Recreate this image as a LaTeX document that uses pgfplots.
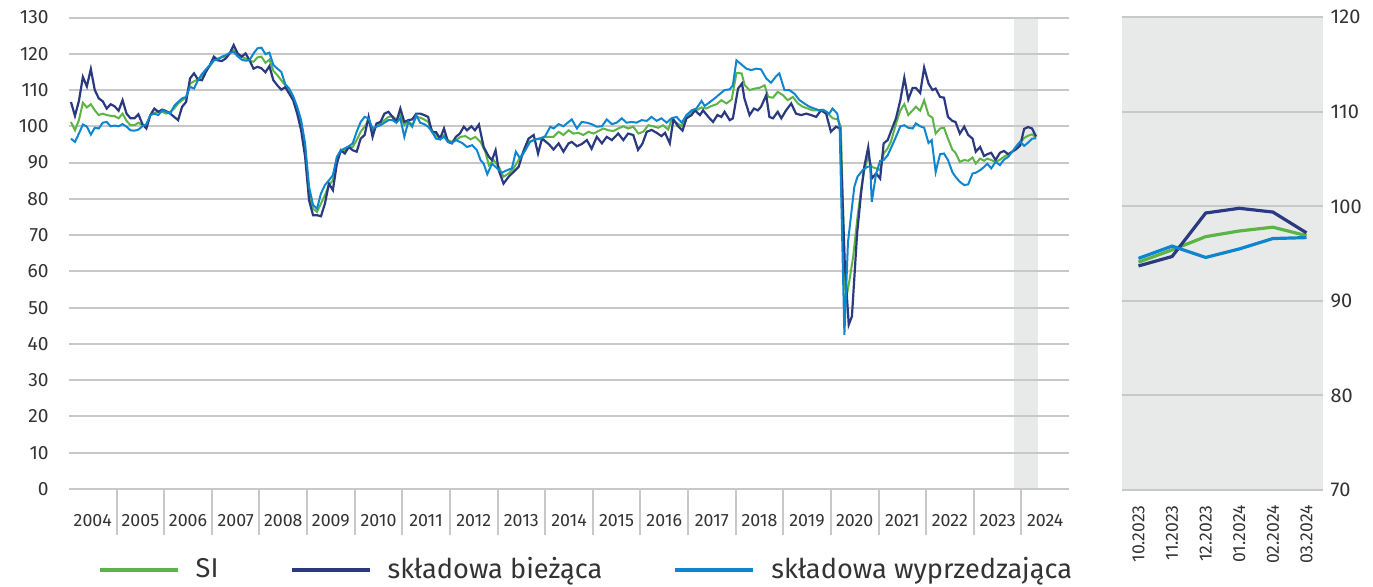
\documentclass[border=0pt]{standalone}
\usepackage{pgfplots}
\usepackage{pgfplotstable}
\pgfplotsset{compat=1.18}
\usepackage{fontspec}
\setmainfont{Fira Sans}
\definecolor{cSI}{HTML}{5DB446}
\definecolor{cCur}{HTML}{2B3A80}
\definecolor{cLead}{HTML}{0E86CF}
\definecolor{gridgray}{HTML}{C8C8C8}
\definecolor{bandgray}{HTML}{E8EAEA}
\definecolor{txt}{HTML}{333333}

% x = months since Jan 2004 (position on the time axis)
\pgfplotstableread{
x y
0.5 101.2
1.5 98.9
2.5 101.7
3.5 106.5
4.5 105.2
5.5 106.1
6.5 104.4
7.5 103.1
8.5 103.5
9.5 103.1
10.5 102.9
11.5 102.8
12.5 102.2
13.5 103.5
14.5 101.5
15.5 100.3
16.5 100.3
17.5 101.0
18.5 100.3
19.5 100.0
20.5 103.1
21.5 103.7
22.5 104.0
23.5 104.0
24.5 103.5
25.5 104.0
26.5 104.9
27.5 106.3
28.5 107.2
29.5 107.9
30.5 111.8
31.5 112.4
32.5 112.9
33.5 113.8
34.5 115.3
35.5 116.6
36.5 118.1
37.5 118.7
38.5 119.0
39.5 119.3
40.5 120.1
41.5 121.0
42.5 119.8
43.5 119.2
44.5 118.7
45.5 118.1
46.5 117.8
47.5 119.0
48.5 119.2
49.5 117.5
50.5 118.4
51.5 115.3
52.5 114.1
53.5 112.7
54.5 111.3
55.5 109.5
56.5 107.2
57.5 104.0
58.5 99.9
59.5 93.4
60.5 81.5
61.5 77.3
62.5 76.4
63.5 78.7
64.5 81.0
65.5 83.8
66.5 85.1
67.5 90.7
68.5 93.0
69.5 93.4
70.5 94.3
71.5 94.3
72.5 96.2
73.5 98.5
74.5 99.9
75.5 101.7
76.5 98.9
77.5 100.0
78.5 100.8
79.5 101.7
80.5 102.6
81.5 102.8
82.5 101.9
83.5 103.1
84.5 100.3
85.5 101.5
86.5 100.3
87.5 102.6
88.5 102.4
89.5 101.9
90.5 101.2
91.5 98.9
92.5 97.6
93.5 96.6
94.5 97.6
95.5 96.2
96.5 95.7
97.5 96.2
98.7 97.1
99.9 97.3
101.2 96.4
102.4 97.1
103.7 95.7
104.9 93.0
105.8 89.3
107.0 90.7
108.3 88.8
109.5 86.1
110.8 87.0
112.0 88.4
113.3 90.7
114.6 93.0
115.8 95.7
117.1 96.2
118.3 96.6
119.6 96.9
120.9 97.1
122.1 97.1
123.4 98.5
124.6 97.6
125.9 98.9
127.1 98.0
128.4 98.2
129.6 97.6
130.9 98.5
132.2 98.0
133.4 98.7
134.7 99.4
135.9 98.9
137.2 98.7
138.4 99.4
139.7 100.0
140.9 99.4
142.2 99.9
143.5 98.0
144.7 98.5
146.0 100.3
147.2 100.0
148.5 99.6
149.7 100.3
151.0 99.1
151.8 101.7
153.1 101.0
154.4 100.0
155.6 102.6
156.9 104.0
158.1 104.4
159.4 105.2
160.6 104.9
161.9 105.6
163.2 106.1
164.4 107.2
165.7 106.3
167.0 107.4
168.2 114.7
169.5 114.6
170.3 111.3
171.5 110.0
172.8 110.4
174.0 110.6
175.3 111.3
176.2 108.1
177.4 107.9
178.6 109.5
179.9 108.6
181.1 107.2
182.4 108.1
183.7 106.3
184.9 105.4
186.2 104.9
187.4 104.4
188.7 104.4
190.0 104.6
191.2 103.5
192.5 102.2
193.7 101.9
194.5 99.9
195.7 51.5
196.6 57.0
197.6 64.0
198.7 75.0
199.7 83.3
200.5 88.4
201.4 91.6
202.3 88.8
203.4 88.4
204.4 87.9
205.3 92.5
206.3 93.9
207.1 95.7
208.4 100.7
209.5 104.4
210.5 106.1
211.5 103.1
212.6 104.4
213.4 105.4
214.5 104.3
215.5 107.2
216.6 103.1
217.6 102.4
218.4 98.0
219.5 99.4
220.5 99.6
221.5 96.6
222.6 93.6
223.4 92.7
224.5 90.2
225.6 90.7
226.6 90.5
227.7 91.4
228.5 89.7
229.6 91.1
230.6 90.5
231.4 91.1
232.4 90.7
233.5 90.2
234.6 90.8
235.6 91.6
236.7 92.3
237.7 93.0
238.7 94.1
239.7 95.4
240.7 96.8
241.7 97.4
242.7 97.8
243.7 96.9
}\tabSI

\pgfplotstableread{
x y
0.5 106.7
1.5 102.9
2.5 107.0
3.5 113.6
4.5 111.0
5.5 115.8
6.5 110.0
7.5 107.7
8.5 106.9
9.5 104.9
10.5 106.1
11.5 105.5
12.5 104.3
13.5 107.2
14.5 103.5
15.5 102.2
16.5 102.2
17.5 103.3
18.5 100.6
19.5 99.4
20.5 103.1
21.5 104.9
22.5 104.0
23.5 104.6
24.5 104.2
25.5 103.5
26.5 102.6
27.5 101.7
28.5 105.4
29.5 106.7
30.5 113.2
31.5 114.6
32.5 112.9
33.5 112.7
34.5 115.0
35.5 116.9
36.5 119.2
37.5 118.2
38.5 118.0
39.5 118.7
40.5 120.1
41.5 122.4
42.5 120.1
43.5 119.2
44.5 120.1
45.5 118.2
46.5 115.9
47.5 116.4
48.5 116.0
49.5 114.9
50.5 116.6
51.5 112.7
52.5 111.3
53.5 110.1
54.5 110.8
55.5 109.0
56.5 107.2
57.5 103.5
58.5 98.9
59.5 91.6
60.5 79.6
61.5 75.5
62.5 75.5
63.5 75.2
64.5 78.7
65.5 84.2
66.5 82.4
67.5 89.7
68.5 93.4
69.5 92.5
70.5 94.3
71.5 93.4
72.5 93.0
73.5 96.6
74.5 97.6
75.5 102.6
76.5 97.1
77.5 100.8
78.5 101.2
79.5 103.5
80.5 104.0
81.5 102.6
82.5 101.2
83.5 104.9
84.5 101.2
85.5 101.7
86.5 101.9
87.5 103.5
88.5 103.5
89.5 103.1
90.5 102.6
91.5 98.4
92.5 98.4
93.5 96.6
94.5 99.4
95.5 95.7
96.5 95.3
97.5 97.1
98.5 98.0
99.5 99.9
100.3 98.9
101.4 100.0
102.3 98.9
103.3 100.5
104.5 94.3
105.8 91.6
106.6 90.7
107.5 93.4
108.3 87.9
109.5 84.2
110.8 86.1
112.0 87.4
113.3 88.8
114.6 93.4
115.8 96.6
117.1 97.6
118.2 92.5
119.2 96.6
120.9 95.1
122.1 93.6
123.4 95.3
124.6 93.0
125.9 95.3
126.7 95.7
128.0 94.5
129.2 95.1
130.5 96.2
131.7 93.8
133.0 97.1
134.3 95.3
135.5 97.1
136.8 96.2
138.4 98.0
139.7 96.2
140.9 98.0
142.2 97.6
143.4 93.5
144.5 95.2
145.6 98.5
146.8 99.0
148.1 98.2
149.3 97.3
150.2 98.2
151.4 95.3
152.3 101.9
153.5 100.0
154.6 98.8
155.6 102.2
156.9 103.1
157.7 104.4
159.0 103.1
159.8 104.4
161.1 102.6
162.3 101.2
163.4 103.1
164.4 102.6
165.2 104.0
166.5 101.7
167.3 102.2
168.6 110.4
169.6 111.8
170.2 107.7
171.5 103.1
172.6 104.9
173.6 104.4
174.4 105.4
175.7 108.6
176.5 102.6
177.4 102.2
178.6 104.0
179.5 102.2
180.7 104.4
182.0 106.3
183.2 103.5
184.5 103.1
185.8 103.5
187.0 103.1
188.3 102.6
189.5 104.4
190.8 103.5
192.0 98.5
193.3 99.9
194.3 99.4
195.5 62.0
196.5 45.3
197.3 47.6
198.6 70.4
199.6 81.5
200.4 88.8
201.4 94.2
202.3 85.6
203.4 87.0
204.4 85.6
205.3 95.3
206.3 96.2
207.1 98.5
208.4 102.2
209.5 107.2
210.5 113.4
211.5 107.4
212.6 110.6
213.4 110.6
214.5 109.2
215.5 116.2
216.6 111.8
217.6 110.0
218.4 110.4
219.5 108.1
220.5 107.9
221.5 102.6
222.6 101.5
223.4 101.2
224.5 98.0
225.6 99.9
226.6 97.6
227.7 96.6
228.5 93.0
229.6 94.3
230.6 91.8
231.4 92.3
232.4 92.7
233.5 90.7
234.6 92.7
235.6 93.2
236.7 92.3
237.7 93.0
238.7 93.7
239.7 94.7
240.7 99.3
241.7 99.8
242.7 99.4
243.7 97.2
}\tabCur

\pgfplotstableread{
x y
0.5 96.6
1.5 95.7
2.5 98.0
3.5 100.5
4.5 99.9
5.5 97.7
6.5 99.6
7.5 99.4
8.5 101.0
9.5 101.2
10.5 100.0
11.5 100.2
12.5 100.0
13.5 100.6
14.5 99.9
15.5 98.9
16.5 98.8
17.5 99.1
18.5 100.0
19.5 100.6
20.5 103.1
21.5 103.5
22.5 103.1
23.5 104.4
24.5 104.0
25.5 103.5
26.5 105.6
27.5 106.7
28.5 107.7
29.5 108.1
30.5 110.9
31.5 110.4
32.5 112.7
33.5 114.4
34.5 115.7
35.5 116.9
36.5 118.2
37.5 118.4
38.5 119.2
39.5 119.6
40.5 120.3
41.5 120.5
42.5 119.3
43.5 118.4
44.5 118.1
45.5 118.2
46.5 120.1
47.5 121.5
48.5 121.7
49.5 119.9
50.5 120.3
51.5 116.9
52.5 115.9
53.5 115.0
54.5 111.6
55.5 110.4
56.5 108.3
57.5 105.4
58.5 101.7
59.5 95.3
60.5 83.3
61.5 78.3
62.5 77.3
63.5 81.5
64.5 83.8
65.5 85.1
66.5 86.5
67.5 91.6
68.5 93.4
69.5 93.9
70.5 94.5
71.5 95.3
72.5 98.5
73.5 101.2
74.5 102.6
75.5 102.2
76.5 99.4
77.5 99.9
78.5 100.3
79.5 101.0
80.5 101.7
81.5 101.7
82.5 101.0
83.5 102.2
84.5 97.1
85.5 101.2
86.5 99.9
87.5 103.1
88.5 101.0
89.5 100.6
90.5 99.9
91.5 98.5
92.5 96.6
93.5 96.4
94.5 97.1
95.5 95.7
96.5 95.4
97.5 96.2
99.1 95.4
100.3 94.3
101.6 94.8
102.8 93.4
103.7 90.7
104.5 89.7
105.4 86.8
106.6 89.7
107.9 88.4
109.1 87.2
110.4 87.9
111.6 88.4
112.6 93.0
113.7 91.1
115.0 93.4
116.2 95.7
117.5 96.4
118.8 96.6
120.0 97.3
121.3 99.9
122.1 99.4
123.4 100.6
124.6 100.0
125.9 101.2
126.7 101.9
128.0 99.4
129.2 101.2
130.5 101.0
131.7 100.6
133.0 99.9
134.3 100.0
135.5 101.9
136.8 100.6
138.0 101.0
139.3 102.2
140.5 101.0
141.8 101.2
143.0 101.0
144.3 101.7
145.6 101.5
146.8 102.6
148.1 101.5
149.3 102.2
150.6 101.0
151.8 102.2
153.1 102.6
154.4 101.0
155.6 103.1
156.9 104.4
158.1 104.9
159.4 107.0
160.2 105.6
161.5 106.7
162.7 107.7
164.0 108.9
165.2 110.0
166.5 110.2
167.3 111.3
168.2 118.2
169.4 117.1
170.7 115.9
171.9 115.5
173.2 115.9
174.4 115.7
175.7 113.2
176.9 112.0
178.2 113.8
179.0 114.6
180.3 110.0
181.5 110.0
182.8 109.0
184.1 107.2
185.3 106.3
186.6 105.4
187.8 104.9
189.1 104.4
190.3 104.4
191.6 103.5
192.4 104.9
193.6 103.5
194.2 99.9
195.4 42.5
196.3 68.0
197.9 83.3
198.7 86.1
200.0 87.9
201.1 88.8
201.9 89.0
202.3 79.2
203.4 87.0
204.4 90.5
205.3 90.7
206.3 92.0
207.1 93.9
208.4 97.1
209.5 100.0
210.5 100.3
211.5 99.6
212.6 99.4
213.4 100.8
214.5 100.0
215.5 99.6
216.6 95.4
217.4 96.2
218.4 87.4
219.5 92.3
220.5 92.5
221.5 90.7
222.6 87.4
223.4 86.1
224.5 84.7
225.6 83.8
226.6 84.0
227.7 87.0
228.5 87.2
229.6 87.9
230.6 88.8
231.4 89.7
232.4 88.4
233.5 90.2
234.6 89.3
235.6 90.8
236.7 91.6
237.7 93.0
238.7 94.5
239.7 95.8
240.7 94.6
241.7 95.5
242.7 96.6
243.7 96.7
}\tabLead

\begin{document}
\begin{tikzpicture}
\begin{axis}[
  set layers,
  at={(0pt,0pt)}, anchor=south west,
  scale only axis, width=500pt, height=235.75pt,
  xmin=0, xmax=252, ymin=0, ymax=130,
  axis line style={draw=none},
  ytick={0,10,...,130},
  ymajorgrids, grid style={gridgray, line width=1pt},
  major tick length=0pt,
  tick style={gridgray, line width=1pt},
  xtick pos=bottom, ytick pos=left,
  xtick={6,18,...,246},
  xticklabels={2004,2005,2006,2007,2008,2009,2010,2011,2012,2013,2014,2015,2016,2017,2018,2019,2020,2021,2022,2023,2024},
  extra x ticks={12,24,...,240},
  extra x tick labels={},
  extra x tick style={major tick length=23pt, tick align=outside, xmajorgrids=false},
  xticklabel style={font=\fontsize{8.9}{10}\selectfont, text=txt, anchor=base, yshift=-18.5pt},
  yticklabel style={font=\fontsize{9.6}{10}\selectfont, text=txt, anchor=east, inner sep=0pt, xshift=-10pt},
  /pgf/number format/assume math mode=true,
  legend columns=3,
  legend style={draw=none, fill=none, inner sep=0pt,
    at={(axis description cs:0.0283,-0.171)}, anchor=west,
    font=\fontsize{13.6}{15}\selectfont, text=txt,
    nodes={inner sep=0pt},
    /tikz/every odd column/.append style={column sep=8pt},
    /tikz/every even column/.append style={column sep=35.5pt}},
  legend image code/.code={\draw[#1, line width=2pt] (0pt,0pt) -- (39pt,0pt);},
]
\addplot[fill=bandgray, draw=none, on layer=axis background, forget plot] coordinates {(238.2,0) (244.3,0) (244.3,130) (238.2,130)};
\addplot[cSI, line width=1pt] table[x=x,y=y] {\tabSI};
\addlegendentry{SI}
\addplot[cCur, line width=1.1pt] table[x=x,y=y] {\tabCur};
\addlegendentry{składowa bieżąca}
\addplot[cLead, line width=1pt] table[x=x,y=y] {\tabLead};
\addlegendentry{składowa wyprzedzająca}
\end{axis}

\begin{axis}[
  at={(526.35pt,-0.5pt)}, anchor=south west,
  scale only axis, width=100.8pt, height=236.35pt,
  xmin=-0.5, xmax=5.5, ymin=70, ymax=120,
  axis background/.style={fill=bandgray},
  axis line style={draw=none},
  ytick={70,80,...,120},
  ymajorgrids, grid style={gridgray, line width=1pt},
  major tick length=0pt,
  yticklabel pos=right,
  yticklabel style={font=\fontsize{10}{11}\selectfont, text=txt, anchor=west, inner sep=0pt, xshift=3.5pt},
  xtick={0,1,2,3,4,5},
  xticklabels={10.2023,11.2023,12.2023,01.2024,02.2024,03.2024},
  xticklabel style={rotate=90, anchor=east, inner xsep=7.5pt, inner ysep=0pt, font=\fontsize{8.8}{10}\selectfont, text=txt},
  /pgf/number format/assume math mode=true,
]
\addplot[cSI, line width=1.6pt] coordinates {(0,94.1) (1,95.4) (2,96.8) (3,97.4) (4,97.8) (5,96.9)};
\addplot[cCur, line width=1.6pt] coordinates {(0,93.7) (1,94.7) (2,99.3) (3,99.8) (4,99.4) (5,97.2)};
\addplot[cLead, line width=1.6pt] coordinates {(0,94.5) (1,95.8) (2,94.6) (3,95.5) (4,96.6) (5,96.7)};
\end{axis}
\pgfresetboundingbox
\useasboundingbox (-34.5pt,-48.5pt) rectangle (652pt,244.5pt);
\end{tikzpicture}
\end{document}
